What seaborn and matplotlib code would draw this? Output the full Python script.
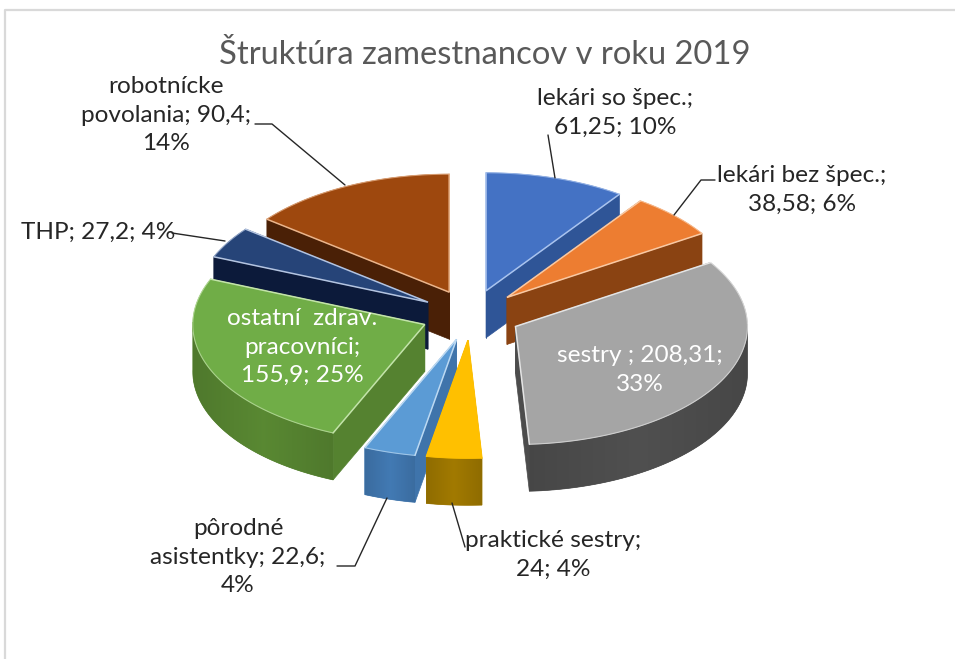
"""Exploded 3D-look pie of staff structure, drawn with projected polygons."""

import matplotlib

matplotlib.use("Agg")
import matplotlib.pyplot as plt
import numpy as np
import seaborn as sns
from matplotlib.colors import LinearSegmentedColormap
from matplotlib.patches import Polygon

CATEGORIES = ["lekári so špec.", "lekári bez špec.", "sestry", "praktické sestry",
              "pôrodné asistentky", "ostatní zdrav. pracovníci", "THP", "robotnícke povolania"]
VALUES = [61.25, 38.58, 208.31, 24, 22.6, 155.9, 27.2, 90.4]
TOP_COLORS = ["#4472c4", "#ed7d31", "#a5a5a5", "#ffc000", "#5b9bd5", "#70ad47", "#264478", "#9e480e"]
WALL_COLORS = ["#2f5597", "#8a4312", "#4c4c4c", "#9a7400", "#3f74ab", "#558230", "#0c1a3a", "#4a2006"]
EDGE_COLORS = ["#a9c3ee", "#f8c9a4", "#e4e4e4", "#ffc000", "#bcd9f2", "#c3e3aa", "#b4c4e0", "#e9b48c"]

LABELS = [
    ("lekári so špec.;\n61,25; 10%", 615, 113, "#262626"),
    ("lekári bez špec.;\n38,58; 6%", 802, 190, "#262626"),
    ("sestry ; 208,31;\n33%", 640, 370, "white"),
    ("praktické sestry;\n24; 4%", 553, 555, "#262626"),
    ("pôrodné\nasistentky; 22,6;\n4%", 238, 557, "#262626"),
    ("ostatní  zdrav.\npracovníci;\n155,9; 25%", 302, 347, "white"),
    ("THP; 27,2; 4%", 98, 232, "#262626"),
    ("robotnícke\npovolania; 90,4;\n14%", 166, 115, "#262626"),
]
LEADERS = [
    [(548, 135), (555, 178)],
    [(715, 180), (701, 180), (674, 215)],
    [(465, 547), (452, 503)],
    [(337, 566), (355, 566), (387, 498)],
    [(172, 233), (225, 241)],
    [(255, 124), (272, 124), (345, 185)],
]

CX, CY = 471, 315
RX, RY = 232, 118
EXPLODE = 0.215
DEPTH = 47
FONT = "Lato"


def project(theta, r=1.0):
    # theta runs clockwise from twelve o'clock
    return r * RX * np.sin(theta), -r * RY * np.cos(theta)


def draw_rim(ax, arc, thetas, wall):
    # only the part of the outer wall that faces the viewer
    front = arc[np.cos(thetas) < 0.02]
    if len(front) < 2:
        return
    drop = np.array([0, DEPTH])
    rim = Polygon(np.vstack([front, (front + drop)[::-1]]), fc=wall, ec=wall, lw=0.5, zorder=2)
    ax.add_patch(rim)
    rgb = np.array(matplotlib.colors.to_rgb(wall))
    cmap = LinearSegmentedColormap.from_list("rim", [rgb * 0.93, np.clip(rgb * 1.05, 0, 1), rgb * 0.93])
    x0, x1 = front[:, 0].min(), front[:, 0].max()
    y0, y1 = front[:, 1].min(), front[:, 1].max() + DEPTH
    img = ax.imshow(np.linspace(0, 1, 200)[None, :], extent=(x0, x1, y1, y0), aspect="auto",
                    cmap=cmap, interpolation="bilinear", zorder=2)
    img.set_clip_path(rim)


def draw_slice(ax, start, end, top, wall, edge):
    mid = (start + end) / 2
    ox, oy = project(mid, EXPLODE)
    apex = np.array([CX + ox, CY + oy])
    thetas = np.linspace(start, end, 80)
    ax_x, ax_y = project(thetas)
    arc = np.column_stack([CX + ox + ax_x, CY + oy + ax_y])
    drop = np.array([0, DEPTH])

    # cut faces
    for p in (arc[0], arc[-1]):
        ax.add_patch(Polygon([apex, p, p + drop, apex + drop], fc=wall, ec=wall, lw=0.5, zorder=2))
    draw_rim(ax, arc, thetas, wall)
    ax.add_patch(Polygon(np.vstack([apex, arc]), fc=top, ec=top, lw=0.5, zorder=2))
    ax.plot(*np.vstack([arc[-1], apex, arc[0]]).T, color=edge, lw=1.1, solid_joinstyle="miter", zorder=2)
    ax.plot(*arc.T, color=edge, lw=0.8, alpha=0.7, zorder=2)


def main():
    sns.set_theme(style="white")
    plt.rcParams["font.family"] = [FONT, "DejaVu Sans"]
    fig = plt.figure(figsize=(9.55, 6.59), dpi=100, facecolor="white")
    ax = fig.add_axes([0, 0, 1, 1])
    ax.set_axis_off()

    # chart frame, open at the bottom and right like the crop
    ax.plot([4.5, 4.5, 955], [659, 9.5, 9.5], color="#d9d9d9", lw=1.6)

    top_pal = sns.color_palette(TOP_COLORS)
    edges = np.concatenate([[0], np.cumsum(VALUES)]) / np.sum(VALUES) * 2 * np.pi
    mids = (edges[:-1] + edges[1:]) / 2
    # back slices first so the front ones cover their walls
    order = sorted(range(len(VALUES)), key=lambda i: -np.cos(mids[i]))
    for i in order:
        draw_slice(ax, edges[i], edges[i + 1], top_pal[i], WALL_COLORS[i], EDGE_COLORS[i])

    for pts in LEADERS:
        ax.plot(*np.array(pts).T, color="#262626", lw=1.0, zorder=4)

    ax.text(485, 55, "Štruktúra zamestnancov v roku 2019", ha="center", va="center",
            fontsize=23.6, color="#595959", zorder=5)
    for text, x, y, color in LABELS:
        ax.text(x, y, text, ha="center", va="center", fontsize=17.6, color=color,
                linespacing=1.42, zorder=5)

    ax.set_xlim(0, 955)
    ax.set_ylim(659, 0)
    fig.savefig("out.png", dpi=100)
    plt.close(fig)


if __name__ == "__main__":
    main()
